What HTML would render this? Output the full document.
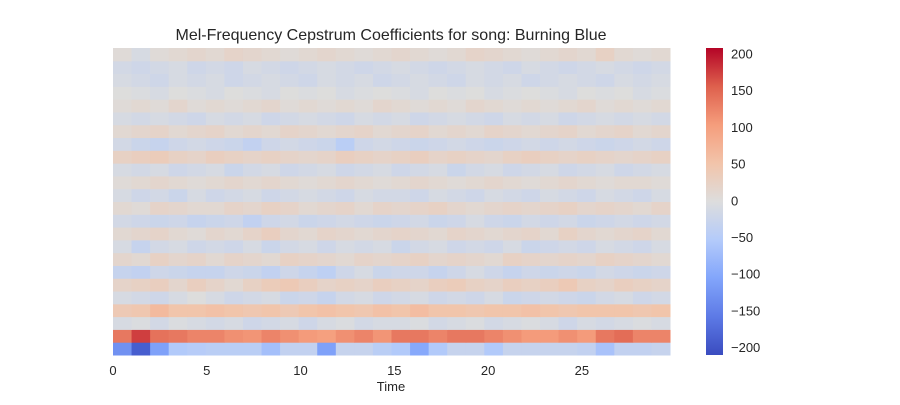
<!DOCTYPE html>
<html><head><meta charset="utf-8"><style>
body{margin:0;background:#fff;}
svg text{font-family:"Liberation Sans",sans-serif;fill:#262626;}
</style></head><body>
<svg id="chart" width="900" height="400">
<defs><linearGradient id="cg" x1="0" y1="1" x2="0" y2="0">
<stop offset="0" stop-color="rgb(58,76,192)"/><stop offset="0.125" stop-color="rgb(93,122,230)"/><stop offset="0.25" stop-color="rgb(130,165,251)"/><stop offset="0.375" stop-color="rgb(180,203,250)"/><stop offset="0.5" stop-color="rgb(221,221,221)"/><stop offset="0.625" stop-color="rgb(242,196,170)"/><stop offset="0.75" stop-color="rgb(245,157,124)"/><stop offset="0.875" stop-color="rgb(222,96,77)"/><stop offset="1" stop-color="rgb(180,4,38)"/>
</linearGradient></defs>
<text x="391" y="40" font-size="16" text-anchor="middle">Mel-Frequency Cepstrum Coefficients for song: Burning Blue</text>
<g id="cells"></g>
<g id="xt"></g>
<text x="391" y="391" font-size="13" text-anchor="middle">Time</text>
<rect x="706" y="48" width="17" height="307" fill="url(#cg)"/>
<g id="ct"></g>
</svg>
<script>
// rows indexed from bottom (coefficient 0) upward; 30 time bins of ~1s
const coeffRows = [
[-130,-190,-110,-55,-50,-45,-45,-45,-70,-35,-35,-110,-30,-30,-45,-55,-100,-55,-30,-30,-55,-30,-30,-30,-30,-35,-65,-35,-35,-30],
[135,175,140,135,125,125,115,110,125,115,105,100,115,125,110,135,135,125,135,135,125,115,105,105,115,105,135,145,125,125],
[-10,-5,-15,-5,-10,-15,-10,-20,-15,-10,-20,-10,-5,-15,-10,-10,-5,-15,-10,-5,-15,-10,-5,-10,-20,-10,-15,-10,-5,-10],
[40,45,65,50,50,55,50,45,50,40,50,55,50,45,55,50,60,50,50,45,50,50,55,50,45,50,50,50,45,50],
[-10,-15,-20,-10,0,-10,-20,-15,-10,-25,-20,-30,-15,-10,-20,-15,-10,-20,-15,-20,-10,-25,-20,-15,-20,-25,-15,-10,-20,-15],
[20,25,30,15,30,20,10,25,35,40,30,20,25,20,30,25,20,30,35,25,20,30,25,30,40,25,20,30,25,20],
[-30,-35,-20,-25,-30,-30,-20,-25,-35,-20,-30,-40,-20,-10,-25,-20,-20,-30,-20,-10,-20,-30,-20,-25,-20,-25,-15,-20,-25,-20],
[15,10,25,15,20,10,20,15,10,25,20,15,10,20,15,20,25,15,20,15,10,25,20,15,20,15,25,20,15,10],
[-10,-30,-15,-10,-20,-15,-20,-10,-25,-15,-10,-20,-10,-15,-10,-25,-15,-10,-20,-15,-20,-10,-25,-20,-15,-20,-10,-15,-20,-10],
[10,15,20,10,5,15,10,20,30,15,10,20,15,10,15,20,15,10,20,15,10,15,20,10,25,15,10,15,20,10],
[-15,-20,-25,-20,-30,-25,-20,-35,-20,-15,-25,-20,-15,-20,-25,-20,-15,-25,-20,-10,-20,-25,-15,-20,-15,-25,-20,-15,-20,-15],
[10,5,20,15,10,10,20,15,25,20,10,15,20,10,20,15,20,25,15,10,15,20,15,20,25,15,20,15,10,20],
[-10,-20,-15,-25,-10,-20,-15,-10,-20,-15,-10,-15,-20,-10,-15,-15,-20,-10,-15,-20,-10,-15,-20,-10,-15,-20,-10,-15,-20,-10],
[5,10,15,10,5,10,15,10,15,10,5,10,15,10,5,10,15,10,5,10,15,10,5,10,15,10,5,10,10,5],
[-10,-15,-10,-20,-15,-10,-25,-15,-10,-20,-15,-10,-20,-15,-10,-20,-15,-10,-25,-15,-10,-20,-15,-10,-20,-15,-10,-20,-15,-10],
[25,30,35,25,20,30,25,20,25,20,15,20,30,25,20,25,30,20,25,20,15,25,30,25,20,25,20,15,20,25],
[-15,-25,-30,-20,-15,-20,-25,-35,-20,-15,-20,-25,-45,-20,-15,-20,-25,-20,-15,-20,-25,-20,-15,-20,-15,-20,-25,-20,-15,-20],
[10,15,20,10,15,20,10,15,10,20,15,10,15,20,10,15,20,10,15,10,20,15,10,15,20,10,15,20,10,15],
[-10,-15,-10,-15,-20,-10,-15,-10,-20,-15,-10,-15,-20,-10,-15,-10,-20,-15,-10,-15,-20,-10,-15,-10,-20,-15,-10,-15,-10,-15],
[5,10,5,15,5,10,5,10,15,5,10,5,10,5,15,10,5,10,5,15,10,5,10,5,10,15,5,10,5,10],
[0,-5,-10,0,-5,-10,0,-5,-10,0,-5,0,-10,-5,0,-5,-10,0,-5,0,-10,-5,0,-5,-10,0,-5,0,-10,-5],
[-10,-15,-20,-10,-15,-10,-20,-15,-10,-15,-20,-10,-15,-10,-20,-15,-10,-15,-20,-10,-15,-10,-20,-15,-10,-15,-20,-10,-15,-10],
[-15,-20,-15,-10,-20,-15,-20,-10,-15,-20,-15,-10,-15,-20,-15,-10,-15,-20,-15,-10,-15,-20,-10,-15,-20,-15,-10,-15,-20,-15],
[5,-10,5,10,15,10,20,15,10,5,10,15,10,5,10,15,10,5,10,20,15,10,5,10,15,10,25,10,5,10]
];
const xTickValues = [0,5,10,15,20,25];
const cbTickValues = [200,150,100,50,0,-50,-100,-150,-200];
const totalTime = 29.7;

const X0=113,X1=670,Y0=48,Y1=355,VMIN=-210,VMAX=208;
const xScale = t => X0 + t/totalTime*(X1-X0);
const cScale = v => Y1 - (v-VMIN)/(VMAX-VMIN)*(Y1-Y0);
const stops=[[58,76,192],[93,122,230],[130,165,251],[180,203,250],[221,221,221],[242,196,170],[245,157,124],[222,96,77],[180,4,38]];
function cmap(v){let t=(v-VMIN)/(VMAX-VMIN);t=Math.max(0,Math.min(1,t))*8;const i=Math.min(7,Math.floor(t)),f=t-i;const a=stops[i],b=stops[i+1];return `rgb(${a.map((c,k)=>Math.round(c+(b[k]-c)*f)).join(',')})`;}
const NS="http://www.w3.org/2000/svg";
const g=document.getElementById('cells');
const nR=coeffRows.length, rh=(Y1-Y0)/nR;
coeffRows.forEach((row,ri)=>{
  const nC=row.length, cw=(X1-X0)/nC;
  row.forEach((v,ci)=>{
    const r=document.createElementNS(NS,'rect');
    r.setAttribute('x',X0+ci*cw);r.setAttribute('y',Y1-(ri+1)*rh);
    r.setAttribute('width',cw+0.5);r.setAttribute('height',rh+0.5);
    r.setAttribute('fill',cmap(v));
    
    
    g.appendChild(r);
  });
});
const xt=document.getElementById('xt');
xTickValues.forEach(t=>{
  const e=document.createElementNS(NS,'text');
  e.setAttribute('x',xScale(t));e.setAttribute('y',375);e.setAttribute('font-size','13');e.setAttribute('text-anchor','middle');
  e.textContent=t;
  
  
  xt.appendChild(e);
});
const ct=document.getElementById('ct');
cbTickValues.forEach(v=>{
  const e=document.createElementNS(NS,'text');
  e.setAttribute('x',731);e.setAttribute('y',cScale(v)+4.5);e.setAttribute('font-size','13');
  e.textContent=v<0?'\u2212'+Math.abs(v):v;
  
  
  ct.appendChild(e);
});
</script>
</body></html>
